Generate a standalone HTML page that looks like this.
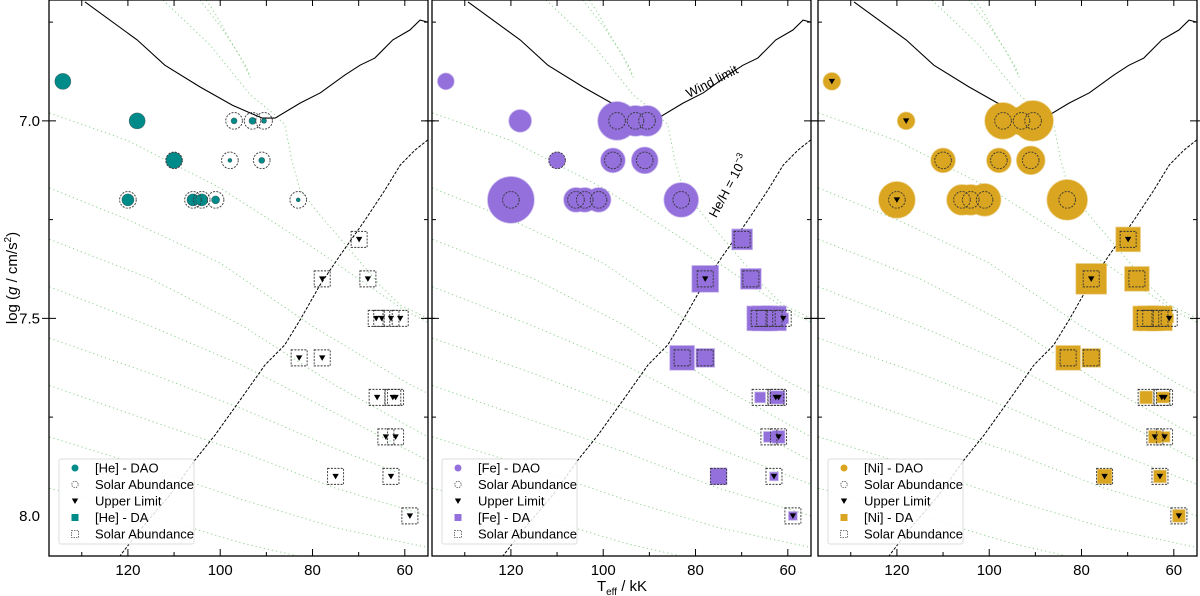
<!DOCTYPE html>
<html><head><meta charset="utf-8"><style>
body{margin:0;background:#fff;}
svg{display:block;font-family:"Liberation Sans",sans-serif;}
</style></head><body>
<svg id="chart" width="1200" height="596" viewBox="0 0 1200 596" xmlns="http://www.w3.org/2000/svg"></svg>
<script>
// ---- data ----
const daoTeff = [134.1,118.0,110.0,120.0,105.9,104.0,101.0,97.0,93.0,90.5,97.9,91.0,83.1];
const daoLogg = [6.90,7.00,7.10,7.20,7.20,7.20,7.20,7.00,7.00,7.00,7.10,7.10,7.20];
const daoSolarShown = [0,0,1,1,1,1,1,1,1,1,1,1,1];
const heDaoSize = [8,8,8,6,6,6,4,3,3.5,2.5,2,3,2];
const feDaoSize = [8,11,8,23,12,12,12,19,15,15,12,13,17];
const niDaoSize = [8.5,8.5,12,18,15,15,16,18,14,20,12,14,20];
const heDaoUpper = [0,0,0,0,0,0,0,0,0,0,0,0,0];
const feDaoUpper = [0,0,0,0,0,0,0,0,0,0,0,0,0];
const niDaoUpper = [1,1,0,1,0,0,0,0,0,0,0,0,0];
const daTeff = [69.9,77.9,68.0,66.2,65.0,63.0,61.0,82.9,77.9,66.0,62.6,62.0,64.1,62.0,75.0,63.0,58.9];
const daLogg = [7.30,7.40,7.40,7.50,7.50,7.50,7.50,7.60,7.60,7.70,7.70,7.70,7.80,7.80,7.90,7.90,8.00];
const heDaSize = [0,0,0,0,0,0,0,0,0,0,0,0,0,0,0,0,0];
const feDaSize = [10,13,10,12,12,12,5,12,9,5,6,6,5,6,8,4,4];
const niDaSize = [12,15,12,12,12,12,4,12,9,6,5,5,6,5,7,6,6];
const heDaUpper = [1,1,1,1,1,1,1,1,1,1,1,1,1,1,1,1,1];
const feDaUpper = [0,1,0,0,0,0,1,0,0,0,1,1,0,1,0,1,1];
const niDaUpper = [1,1,0,0,0,0,1,0,0,0,1,1,1,1,1,1,1];
const windTeff = [129.3,118.0,112.0,104.4,97.4,93.5,90.9,88.1,82.7,78.3,73.0,69.7,66.5,62.6,58.9,56.7,55.0];
const windLogg = [6.699,6.795,6.859,6.914,6.960,6.980,6.993,6.993,6.955,6.929,6.884,6.859,6.841,6.795,6.770,6.745,6.750];
const heHTeff = [55.0,57.8,61.0,64.3,68.6,74.0,78.4,82.7,86.0,90.3,95.7,101.1,105.5,110.9,117.4,121.7];
const heHLogg = [7.048,7.074,7.112,7.175,7.251,7.340,7.416,7.504,7.567,7.618,7.707,7.795,7.859,7.947,8.036,8.101];
const tracks = [
 [[137,6.98],[120,7.05],[100,7.17],[80,7.32],[60,7.48],[55,7.51]],
 [[137,7.17],[120,7.25],[100,7.36],[80,7.52],[60,7.66],[55,7.69]],
 [[137,7.30],[115,7.40],[95,7.52],[75,7.67],[55,7.80]],
 [[137,7.42],[115,7.52],[95,7.62],[75,7.74],[55,7.86]],
 [[137,7.55],[115,7.64],[95,7.73],[75,7.83],[55,7.92]],
 [[137,7.67],[115,7.76],[95,7.84],[75,7.93],[55,8.00]],
 [[137,7.80],[115,7.88],[95,7.96],[75,8.03],[55,8.08]],
 [[137,7.93],[115,8.00],[95,8.07],[80,8.11]],
 [[104.4,6.694],[100,6.76],[96,6.83],[93.5,6.89],[94.2,6.866],[97.9,6.795],[101,6.73],[103,6.694]],
 [[112.4,6.694],[102.2,6.808],[93.5,6.934],[88.1,6.985],[86.0,7.01],[84.5,7.099],[82.7,7.175],[78.4,7.238],[71.9,7.327],[65.4,7.416],[61.0,7.466],[55.0,7.50]]
];
const xTicks = [120,100,80,60];
const yTicks = [7.0,7.5,8.0];
const panels = [
 {el:'He', color:'#008b8b', dao:heDaoSize, daoUp:heDaoUpper, da:heDaSize, daUp:heDaUpper},
 {el:'Fe', color:'#9370db', dao:feDaoSize, daoUp:feDaoUpper, da:feDaSize, daUp:feDaUpper},
 {el:'Ni', color:'#daa520', dao:niDaoSize, daoUp:niDaoUpper, da:niDaSize, daUp:niDaUpper}
];
// ---- layout ----
const lefts=[49,432,818], PW=379, PH=556, T0=137.1, PXK=4.615, G0=6.694, PXG=395;
const NS='http://www.w3.org/2000/svg';
const svg=document.getElementById('chart');
function mk(tag,attrs,parent){const e=document.createElementNS(NS,tag);for(const k in attrs)e.setAttribute(k,attrs[k]);(parent||svg).appendChild(e);return e;}
function tri(g,cx,cy,name){const t=mk('path',{d:`M${cx-3.2},${cy-2.5}L${cx+3.2},${cy-2.5}L${cx},${cy+3}Z`,fill:'#000'},g);
 
 }
panels.forEach((p,pi)=>{
 const L=lefts[pi];
 const X=T=>L+(T0-T)*PXK, Y=g=>(g-G0)*PXG;
 const g=mk('g',{});
 
 
 const cid='clip'+pi;
 const cp=mk('clipPath',{id:cid},g); mk('rect',{x:L,y:0,width:PW,height:PH},cp);
 const inner=mk('g',{'clip-path':`url(#${cid})`},g);
 tracks.forEach((tr,ti)=>{
  const pl=mk('polyline',{points:tr.map(q=>X(q[0])+','+Y(q[1])).join(' '),fill:'none',stroke:'#8fd18f','stroke-width':1,'stroke-dasharray':'1.2,3'},inner);
  
  
 });
 const w=mk('polyline',{points:windTeff.map((t,i)=>X(t)+','+Y(windLogg[i])).join(' '),fill:'none',stroke:'#000','stroke-width':1.1},inner);
 
 
 const h=mk('polyline',{points:heHTeff.map((t,i)=>X(t)+','+Y(heHLogg[i])).join(' '),fill:'none',stroke:'#000','stroke-width':1,'stroke-dasharray':'3,1.5'},inner);
 
 
 daTeff.forEach((t,i)=>{
  const s=p.da[i]; if(s>0){const r=mk('rect',{x:X(t)-s,y:Y(daLogg[i])-s,width:2*s,height:2*s,fill:p.color,stroke:p.color,'stroke-opacity':0.5,'stroke-width':1.5},inner);
   
   }
 });
 daTeff.forEach((t,i)=>{
  const r=mk('rect',{x:X(t)-8,y:Y(daLogg[i])-8,width:16,height:16,fill:'none',stroke:'#333','stroke-width':0.9,'stroke-dasharray':'2,1.3'},inner);
  
  
  if(p.daUp[i]) tri(inner,X(t),Y(daLogg[i]),'upper-limit-marker');
 });
 daoTeff.forEach((t,i)=>{
  const c=mk('circle',{cx:X(t),cy:Y(daoLogg[i]),r:p.dao[i],fill:p.color,stroke:pi==0?'#333':p.color,'stroke-opacity':pi==0?0.6:0.5,'stroke-width':pi==0?0.6:1.5},inner);
  
  
 });
 daoTeff.forEach((t,i)=>{
  if(daoSolarShown[i]){const c=mk('circle',{cx:X(t),cy:Y(daoLogg[i]),r:8.3,fill:'none',stroke:'#333','stroke-width':0.9,'stroke-dasharray':'2,1.3'},inner);
   
   }
  if(p.daoUp[i]) tri(inner,X(t),Y(daoLogg[i]),'upper-limit-marker');
 });
 const fr=mk('rect',{x:L,y:0,width:PW,height:PH,fill:'none',stroke:'#000','stroke-width':1.3},g);
 
 
 for(let T=130;T>=60;T-=10){const x=X(T);const major=T%20==0;
  mk('line',{x1:x,x2:x,y1:PH,y2:PH-(major?7:4),stroke:'#000','stroke-width':1},g);
  mk('line',{x1:x,x2:x,y1:0,y2:6,stroke:'#000','stroke-width':1},g);}
 xTicks.forEach(T=>{const tx=mk('text',{x:X(T),y:575,'text-anchor':'middle','font-size':15},g);tx.textContent=T;
  
  });
 for(let k=0;k<=4;k++){const gv=6.75+k*0.25;const y=Y(gv);const major=(k%2==1);
  if(major){mk('line',{x1:L-7,x2:L+7,y1:y,y2:y,stroke:'#000','stroke-width':1},g);mk('line',{x1:L+PW-7,x2:L+PW+7,y1:y,y2:y,stroke:'#000','stroke-width':1},g);}
  else{mk('line',{x1:L,x2:L+4,y1:y,y2:y,stroke:'#000','stroke-width':1},g);mk('line',{x1:L+PW-4,x2:L+PW,y1:y,y2:y,stroke:'#000','stroke-width':1},g);}
 }
 if(pi==0) yTicks.forEach(v=>{const tx=mk('text',{x:40,y:Y(v)+5,'text-anchor':'end','font-size':15},g);tx.textContent=v.toFixed(1);
  
  });
 const lg=mk('g',{},g);
 
 
 mk('rect',{x:L+10,y:459,width:135,height:85,rx:2,fill:'#fff','fill-opacity':0.85,stroke:'#ddd','stroke-width':1},lg);
 const labs=[`[${p.el}] - DAO`,'Solar Abundance','Upper Limit',`[${p.el}] - DA`,'Solar Abundance'];
 labs.forEach((s,k)=>{const y=468+k*16.5;const mx=L+26;
  if(k==0) mk('circle',{cx:mx,cy:y,r:3.5,fill:p.color},lg);
  if(k==1) mk('circle',{cx:mx,cy:y,r:3.2,fill:'none',stroke:'#555','stroke-width':0.8,'stroke-dasharray':'1.5,1'},lg);
  if(k==2) tri(lg,mx,y,'legend-triangle');
  if(k==3) mk('rect',{x:mx-3.5,y:y-3.5,width:7,height:7,fill:p.color},lg);
  if(k==4) mk('rect',{x:mx-3.5,y:y-3.5,width:7,height:7,fill:'none',stroke:'#555','stroke-width':0.8,'stroke-dasharray':'1.5,1'},lg);
  const tx=mk('text',{x:L+46,y:y+4.5,'font-size':13},lg);tx.textContent=s;
  
  
 });
 if(pi==1){
  const a=mk('text',{x:0,y:0,'font-size':13,transform:`translate(${X(76)},${Y(6.91)}) rotate(-27)`,'text-anchor':'middle'},g);a.textContent='Wind limit';
  
  
  const b=mk('text',{x:0,y:0,'font-size':13,transform:`translate(${X(72)},${Y(7.17)}) rotate(-62)`,'text-anchor':'middle'},g);
  b.innerHTML='He/H = 10<tspan font-size="9" dy="-6">−3</tspan>';
  
  
 }
});
const xl=mk('text',{x:622,y:591,'text-anchor':'middle','font-size':15});
xl.innerHTML='T<tspan font-size="10" dy="4">eff</tspan><tspan dy="-4"> / kK</tspan>';


const yl=mk('text',{x:0,y:0,'text-anchor':'middle','font-size':15,transform:'translate(17,278) rotate(-90)'});
yl.innerHTML='log (<tspan font-style="italic">g</tspan> / cm/s<tspan font-size="10" dy="-6">2</tspan><tspan dy="6">)</tspan>';


</script>
</body></html>
